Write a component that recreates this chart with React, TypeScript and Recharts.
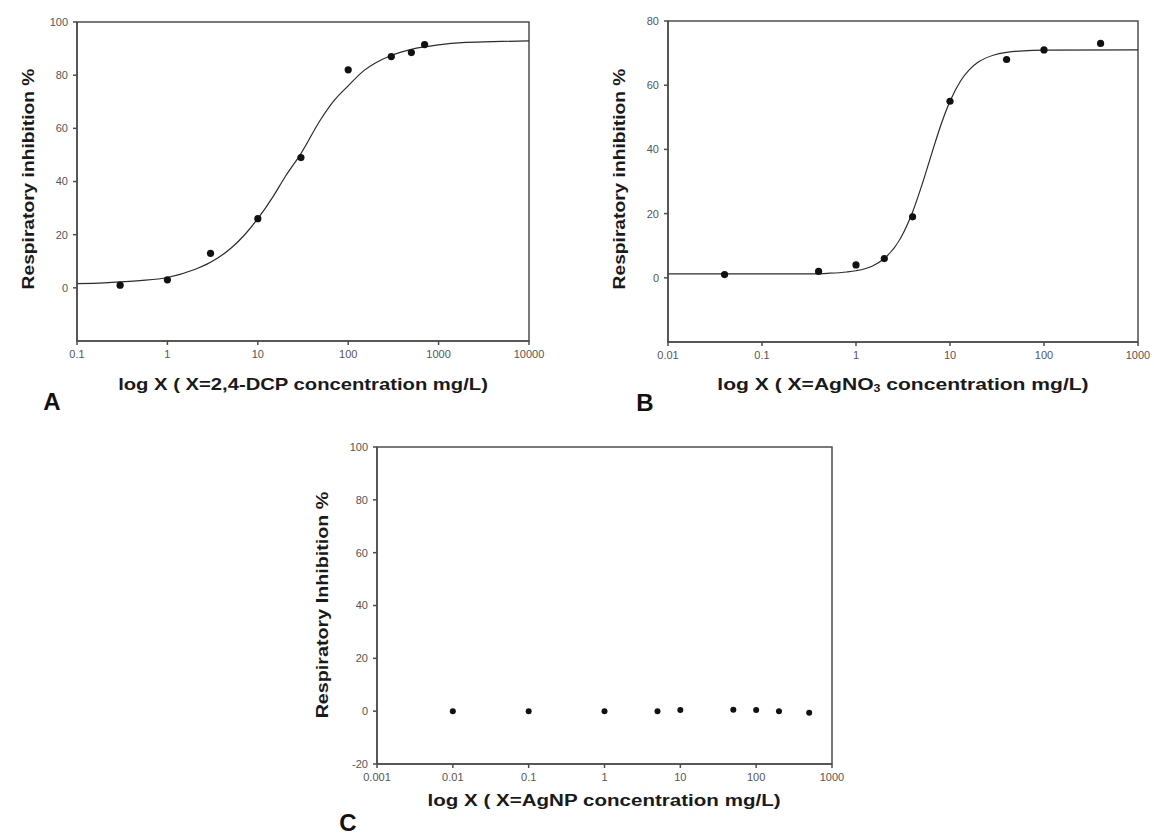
import { ComposedChart, Line, Scatter, XAxis, YAxis, ReferenceArea } from "recharts";

const FONT = "Arial, 'Liberation Sans', Helvetica, sans-serif";
const AXIS = "#4d4d4d";
const INK = "#111111";

// A: 2,4-DCP
const A_CONC = [0.3, 1, 3, 10, 30, 100, 300, 500, 700];
const A_INHIB = [1, 3, 13, 26, 49, 82, 87, 88.5, 91.5];
const A_FIT_X = [0.1, 0.2, 0.5, 1, 2, 3, 5, 7, 10, 15, 20, 30, 50, 70, 100, 150, 200, 300, 500, 1000, 2000, 5000, 10000];
const A_FIT_Y = [1.6, 1.9, 2.7, 3.9, 6.9, 9.6, 14.8, 19.6, 26, 34.7, 41.7, 50.5, 63.5, 70.5, 76, 81.8, 84.6, 87.4, 89.7, 91.4, 92.3, 92.7, 92.9];
const A_XTICKS = [0.1, 1, 10, 100, 1000, 10000];
const A_YTICKS = [0, 20, 40, 60, 80, 100];

// B: AgNO3
const B_CONC = [0.04, 0.4, 1, 2, 4, 10, 40, 100, 400];
const B_INHIB = [1, 2, 4, 6, 19, 55, 68, 71, 73];
const B_FIT_X = [0.01, 0.1, 0.3, 0.5, 0.8, 1, 1.5, 2, 3, 4, 5, 6, 7, 8, 10, 13, 16, 20, 30, 40, 60, 100, 1000];
const B_FIT_Y = [1.2, 1.2, 1.25, 1.4, 1.8, 2.2, 3.7, 6, 12.5, 20.5, 28.7, 36.1, 42.4, 47.6, 55, 61.4, 64.8, 67.2, 69.5, 70.2, 70.7, 70.9, 71];
const B_XTICKS = [0.01, 0.1, 1, 10, 100, 1000];
const B_YTICKS = [0, 20, 40, 60, 80];

// C: AgNP
const C_CONC = [0.01, 0.1, 1, 5, 10, 50, 100, 200, 500];
const C_INHIB = [0, 0, 0, 0, 0.4, 0.5, 0.4, 0, -0.6];
const C_XTICKS = [0.001, 0.01, 0.1, 1, 10, 100, 1000];
const C_YTICKS = [-20, 0, 20, 40, 60, 80, 100];

const zip = (xs: number[], ys: number[]) => xs.map((x, i) => ({ x, y: ys[i] }));

const tickStyle = { fontSize: 11, fill: "#555", fontFamily: FONT };

type PanelProps = {
  left: number;
  top: number;
  width: number;
  height: number;
  margin: { top: number; right: number; left: number; bottom: number };
  yWidth: number;
  xHeight: number;
  xDomain: [number, number];
  yDomain: [number, number];
  xTicks: number[];
  yTicks: number[];
  points: { x: number; y: number }[];
  fit?: { x: number; y: number }[];
  dotR: number;
  yTitle: string;
  yTitlePos: [number, number];
  yStretch: number;
  xTitle: React.ReactNode;
  xTitlePos: [number, number];
  xStretch: number;
  letter: string;
  letterPos: [number, number];
};

function Panel(p: PanelProps) {
  const titleProps = {
    fontFamily: FONT,
    fontWeight: "bold" as const,
    fontSize: 17,
    fill: "#1a1a1a",
  };
  // the scanned titles are wider than plain Arial, so stretch them along the text
  const yLabel = () => {
    const [cx, cy] = p.yTitlePos;
    return (
      <text
        x={0}
        y={0}
        transform={`translate(${cx} ${cy}) rotate(-90) scale(${p.yStretch} 1)`}
        textAnchor="middle"
        dominantBaseline="central"
        {...titleProps}
      >
        {p.yTitle}
      </text>
    );
  };
  const xLabel = () => {
    const [cx, cy] = p.xTitlePos;
    return (
      <g>
        <text x={0} y={0} transform={`translate(${cx} ${cy}) scale(${p.xStretch} 1)`} textAnchor="middle" {...titleProps}>
          {p.xTitle}
        </text>
        <text x={p.letterPos[0]} y={p.letterPos[1]} textAnchor="middle" fontFamily={FONT} fontWeight="bold" fontSize={24} fill="#111">
          {p.letter}
        </text>
      </g>
    );
  };
  return (
    <div style={{ position: "absolute", left: p.left, top: p.top }}>
      <ComposedChart width={p.width} height={p.height} margin={p.margin}>
        <ReferenceArea
          x1={p.xDomain[0]}
          x2={p.xDomain[1]}
          y1={p.yDomain[0]}
          y2={p.yDomain[1]}
          fill="none"
          fillOpacity={0}
          stroke={AXIS}
          strokeWidth={1.5}
          ifOverflow="visible"
        />
        <XAxis
          dataKey="x"
          type="number"
          scale="log"
          domain={p.xDomain}
          allowDataOverflow
          ticks={p.xTicks}
          height={p.xHeight}
          stroke={AXIS}
          strokeWidth={1.5}
          tickSize={4}
          tickMargin={5}
          tick={tickStyle}
          tickFormatter={(v: number) => String(v)}
          label={xLabel}
        />
        <YAxis
          dataKey="y"
          type="number"
          domain={p.yDomain}
          allowDataOverflow
          ticks={p.yTicks}
          width={p.yWidth}
          stroke={AXIS}
          strokeWidth={1.5}
          tickSize={4}
          tickMargin={5}
          tick={tickStyle}
          label={yLabel}
        />
        {p.fit && (
          <Line
            data={p.fit}
            dataKey="y"
            type="monotone"
            stroke="#2b2b2b"
            strokeWidth={1.2}
            dot={false}
            activeDot={false}
            isAnimationActive={false}
          />
        )}
        <Scatter
          data={p.points}
          dataKey="y"
          isAnimationActive={false}
          shape={(s: any) => <circle cx={s.cx} cy={s.cy} r={p.dotR} fill={INK} />}
        />
      </ComposedChart>
    </div>
  );
}

export default function App() {
  return (
    <div style={{ position: "absolute", left: 0, top: 0, width: 1154, height: 836, background: "#fff", overflow: "hidden" }}>
      <Panel
        left={0}
        top={0}
        width={560}
        height={420}
        margin={{ top: 22, right: 31, left: 0, bottom: 0 }}
        yWidth={77}
        xHeight={79}
        xDomain={[0.1, 10000]}
        yDomain={[-20, 100]}
        xTicks={A_XTICKS}
        yTicks={A_YTICKS}
        points={zip(A_CONC, A_INHIB)}
        fit={zip(A_FIT_X, A_FIT_Y)}
        dotR={3.6}
        yTitle="Respiratory inhibition %"
        yTitlePos={[28, 179]}
        yStretch={1.13}
        xTitle="log X ( X=2,4-DCP concentration mg/L)"
        xTitlePos={[303, 390]}
        xStretch={1.19}
        letter="A"
        letterPos={[52, 410]}
      />
      <Panel
        left={580}
        top={0}
        width={574}
        height={420}
        margin={{ top: 21, right: 16, left: 0, bottom: 0 }}
        yWidth={88}
        xHeight={78}
        xDomain={[0.01, 1000]}
        yDomain={[-20, 80]}
        xTicks={B_XTICKS}
        yTicks={B_YTICKS}
        points={zip(B_CONC, B_INHIB)}
        fit={zip(B_FIT_X, B_FIT_Y)}
        dotR={3.6}
        yTitle="Respiratory inhibition %"
        yTitlePos={[39, 179]}
        yStretch={1.13}
        xTitle={
          <>
            log X ( X=AgNO
            <tspan fontSize={10} dy={2}>3</tspan>
            <tspan dy={-2}> concentration mg/L)</tspan>
          </>
        }
        xTitlePos={[323, 390]}
        xStretch={1.24}
        letter="B"
        letterPos={[65, 411]}
      />
      <Panel
        left={290}
        top={428}
        width={560}
        height={408}
        margin={{ top: 19, right: 18, left: 0, bottom: 0 }}
        yWidth={87}
        xHeight={72}
        xDomain={[0.001, 1000]}
        yDomain={[-20, 100]}
        xTicks={C_XTICKS}
        yTicks={C_YTICKS}
        points={zip(C_CONC, C_INHIB)}
        dotR={3}
        yTitle="Respiratory Inhibition %"
        yTitlePos={[32, 177]}
        yStretch={1.16}
        xTitle="log X ( X=AgNP concentration mg/L)"
        xTitlePos={[314, 378]}
        xStretch={1.21}
        letter="C"
        letterPos={[58, 403]}
      />
    </div>
  );
}
